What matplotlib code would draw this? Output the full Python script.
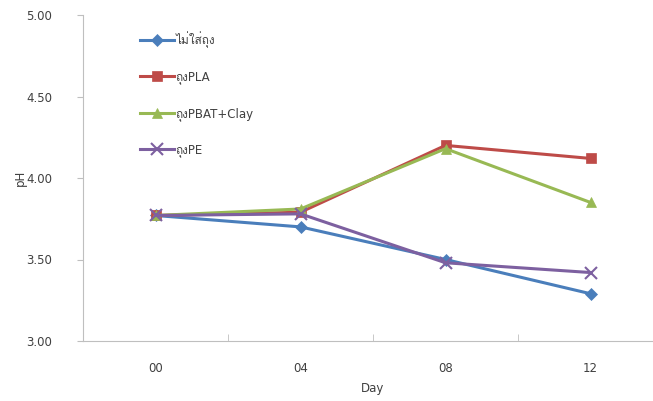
import matplotlib
matplotlib.use("Agg")
import matplotlib.pyplot as plt
from matplotlib import font_manager
from matplotlib.ft2font import FT2Font

days = ["00", "04", "08", "12"]
series_names = ["ไม่ใส่ถุง", "ถุงPLA", "ถุงPBAT+Clay", "ถุงPE"]
no_bag = [3.77, 3.70, 3.50, 3.29]
pla = [3.77, 3.79, 4.20, 4.12]
pbat_clay = [3.77, 3.81, 4.18, 3.85]
pe = [3.77, 3.78, 3.48, 3.42]
yticks = [3.00, 3.50, 4.00, 4.50, 5.00]

# find an installed family that has Thai glyphs
thai_family = None
for fe in font_manager.fontManager.ttflist:
    try:
        cmap = FT2Font(fe.fname).get_charmap()
    except Exception:
        continue
    if all(ord(ch) in cmap for ch in "ไม่ใส่ถุง"):
        thai_family = fe.name
        break
fams = ['DejaVu Sans']
if thai_family:
    fams.append(thai_family)
plt.rcParams['font.family'] = fams

colors = ["#4A7EBB", "#BE4B48", "#98B954", "#7D60A0"]
markers = ["D", "s", "^", "x"]
msizes = [6, 7, 7.5, 8]
values = [no_bag, pla, pbat_clay, pe]

fig = plt.figure(figsize=(6.53, 4.01), dpi=100)
ax = fig.add_axes([83/653, 60/401, 580/653, 326/401])

x = list(range(len(days)))
for name, vals, c, m, ms in zip(series_names, values, colors, markers, msizes):
    ax.plot(x, vals, color=c, marker=m, markersize=ms, linewidth=2.2,
            markeredgewidth=1.5 if m == "x" else 0.5, markeredgecolor=c,
            label=name)

ax.set_xlim(-0.5, 3.5)
ax.set_ylim(3.0, 5.0)
ax.set_yticks(yticks)
ax.set_yticklabels([f"{v:.2f}" for v in yticks])
ax.set_xticks(x)
ax.set_xticklabels(days)
ax.set_xticks([0.5, 1.5, 2.5], minor=True)
ax.tick_params(axis='x', which='major', length=0, pad=15, labelsize=8.5)
ax.tick_params(axis='x', which='minor', length=5, direction='in', color='#BFBFBF')
ax.tick_params(axis='y', length=4, direction='out', color='#BFBFBF', labelsize=8.5, pad=18)
for t in ax.get_xticklabels() + ax.get_yticklabels():
    t.set_color('#404040')

for s in ["top", "right"]:
    ax.spines[s].set_visible(False)
ax.spines["left"].set_color("#BFBFBF")
ax.spines["bottom"].set_color("#BFBFBF")

ax.set_xlabel("Day", fontsize=8.5, color='#404040', labelpad=5)
ax.set_ylabel("pH", fontsize=8.5, color='#404040')
ax.yaxis.set_label_coords((27 - 83) / 580, 0.5)

leg = ax.legend(loc='upper left', bbox_to_anchor=(0.09, 0.965), frameon=False,
                fontsize=8.5, labelspacing=1.9, handlelength=2.9, handletextpad=0.1,
                borderaxespad=0)
for t in leg.get_texts():
    t.set_color('#404040')

fig.savefig("out.png", dpi=100)
